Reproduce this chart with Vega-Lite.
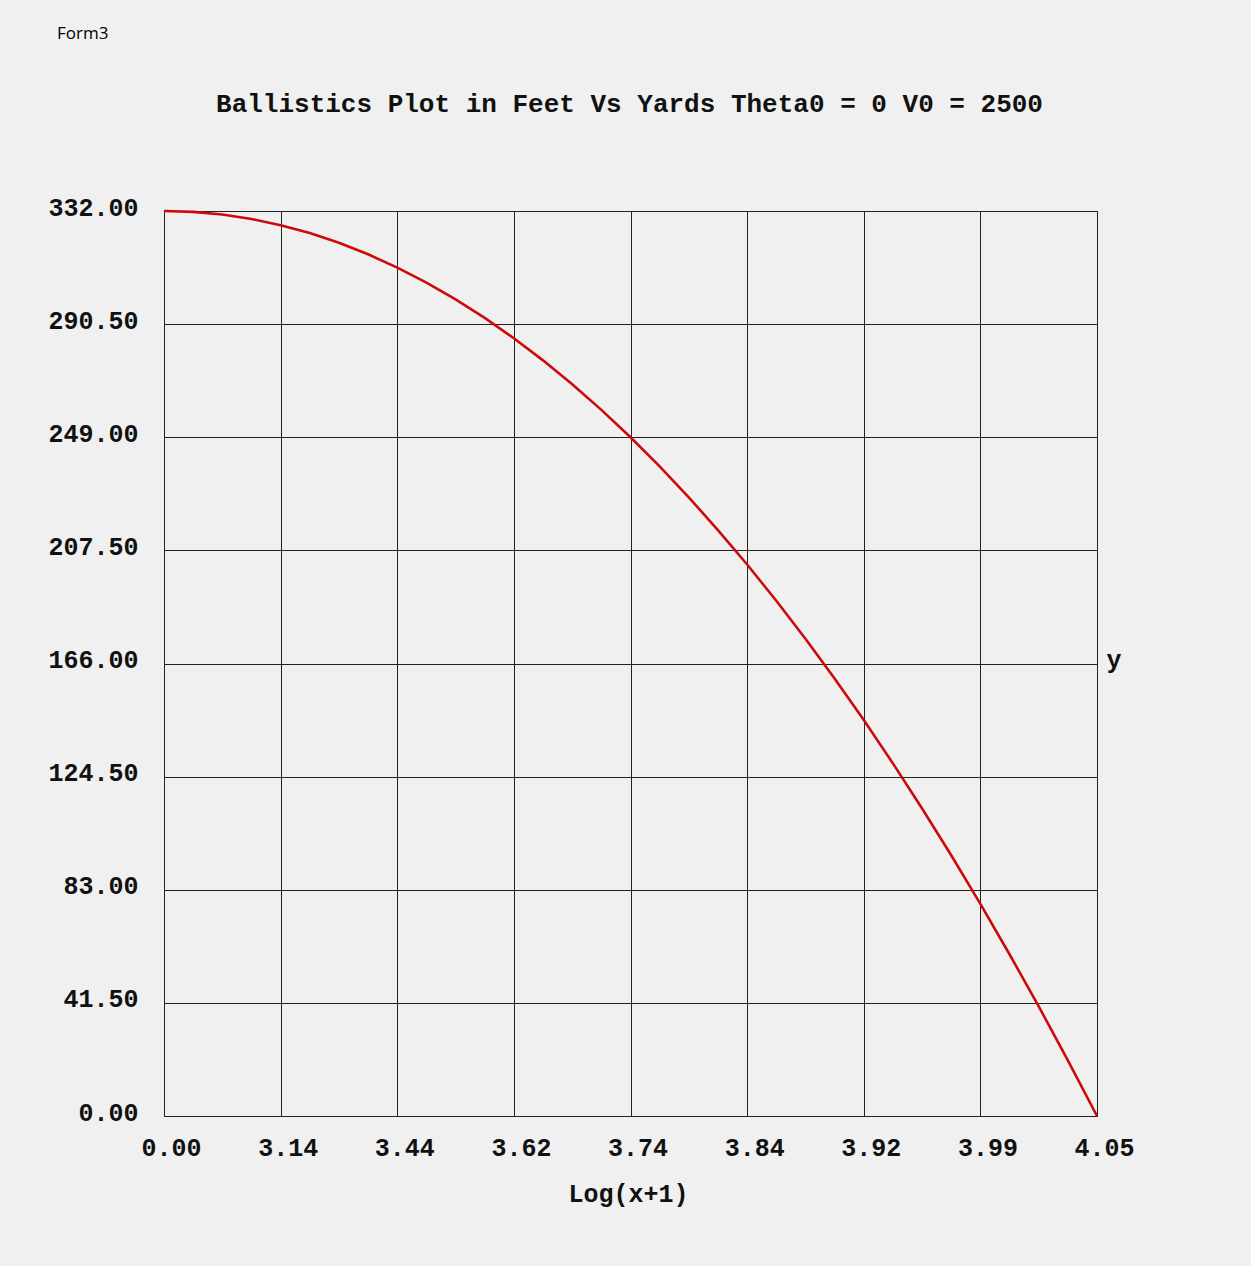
{
  "$schema": "https://vega.github.io/schema/vega-lite/v6.json",
  "autosize": {"type": "none"},
  "padding": {"left": 164, "top": 211, "right": 154, "bottom": 150},
  "width": 933,
  "height": 905,
  "background": "#f0f0f0",
  "title": {
    "text": "Form3",
    "font": "Open Sans",
    "fontWeight": "normal",
    "fontSize": 17,
    "color": "#000000",
    "anchor": "start",
    "frame": "group",
    "baseline": "alphabetic",
    "dx": -107,
    "offset": 34
  },
  "config": {
    "view": {"stroke": "#222222", "strokeWidth": 1},
    "axis": {
      "labelFont": "Liberation Mono",
      "labelFontWeight": "bold",
      "labelFontSize": 25,
      "labelColor": "#111111",
      "titleFont": "Liberation Mono",
      "titleFontWeight": "bold",
      "titleFontSize": 25,
      "titleColor": "#111111",
      "gridColor": "#222222",
      "gridWidth": 1,
      "gridOpacity": 1,
      "domain": false,
      "ticks": false
    }
  },
  "data": {
    "values": [
      {"x": 0, "y": 332},
      {"x": 347, "y": 331.68},
      {"x": 694, "y": 330.7},
      {"x": 1042, "y": 329.08},
      {"x": 1389, "y": 326.81},
      {"x": 1736, "y": 323.89},
      {"x": 2083, "y": 320.33},
      {"x": 2430, "y": 316.11},
      {"x": 2778, "y": 311.25},
      {"x": 3125, "y": 305.74},
      {"x": 3472, "y": 299.58},
      {"x": 3819, "y": 292.77},
      {"x": 4166, "y": 285.31},
      {"x": 4513, "y": 277.21},
      {"x": 4861, "y": 268.45},
      {"x": 5208, "y": 259.05},
      {"x": 5555, "y": 249.0},
      {"x": 5902, "y": 238.3},
      {"x": 6249, "y": 226.95},
      {"x": 6596, "y": 214.96},
      {"x": 6944, "y": 202.31},
      {"x": 7291, "y": 189.02},
      {"x": 7638, "y": 175.08},
      {"x": 7985, "y": 160.49},
      {"x": 8333, "y": 145.25},
      {"x": 8680, "y": 129.36},
      {"x": 9027, "y": 112.83},
      {"x": 9374, "y": 95.64},
      {"x": 9721, "y": 77.81},
      {"x": 10068, "y": 59.33},
      {"x": 10416, "y": 40.2},
      {"x": 10763, "y": 20.42},
      {"x": 11110, "y": 0}
    ]
  },
  "resolve": {"axis": {"x": "independent"}},
  "layer": [
    {
      "mark": {"type": "line", "color": "#cc0a0a", "strokeWidth": 2.6, "clip": false},
      "encoding": {
        "x": {
          "field": "x",
          "type": "quantitative",
          "scale": {"domain": [0, 11110], "nice": false, "zero": false},
          "axis": {
            "orient": "bottom",
            "values": [0, 1388.75, 2777.5, 4166.25, 5555, 6943.75, 8332.5, 9721.25, 11110],
            "labelExpr": "format(log(datum.value + 1) / LN10, '.2f')",
            "labelPadding": 19,
            "labelOffset": 7,
            "labelFlush": false,
            "labelOverlap": false,
            "grid": true,
            "title": "Log(x+1)",
            "titleBaseline": "alphabetic",
            "titleX": 464,
            "titleY": 85
          }
        },
        "y": {
          "field": "y",
          "type": "quantitative",
          "scale": {"domain": [0, 332], "nice": false, "zero": false},
          "axis": {
            "orient": "left",
            "values": [0, 41.5, 83, 124.5, 166, 207.5, 249, 290.5, 332],
            "format": ".2f",
            "labelPadding": 26,
            "labelOffset": -4,
            "labelFlush": false,
            "labelOverlap": false,
            "grid": true,
            "title": "y",
            "titleAngle": 0,
            "titleAlign": "left",
            "titleBaseline": "alphabetic",
            "titleX": 942,
            "titleY": 456
          }
        }
      }
    },
    {
      "mark": {"type": "point", "opacity": 0},
      "encoding": {
        "x": {
          "field": "x",
          "type": "quantitative",
          "axis": {
            "orient": "top",
            "labels": false,
            "grid": false,
            "title": "Ballistics Plot in Feet Vs Yards Theta0 = 0 V0 = 2500",
            "titleFontSize": 26,
            "titleAlign": "center",
            "titleBaseline": "alphabetic",
            "titleX": 465,
            "titleY": -100
          }
        }
      }
    }
  ]
}
